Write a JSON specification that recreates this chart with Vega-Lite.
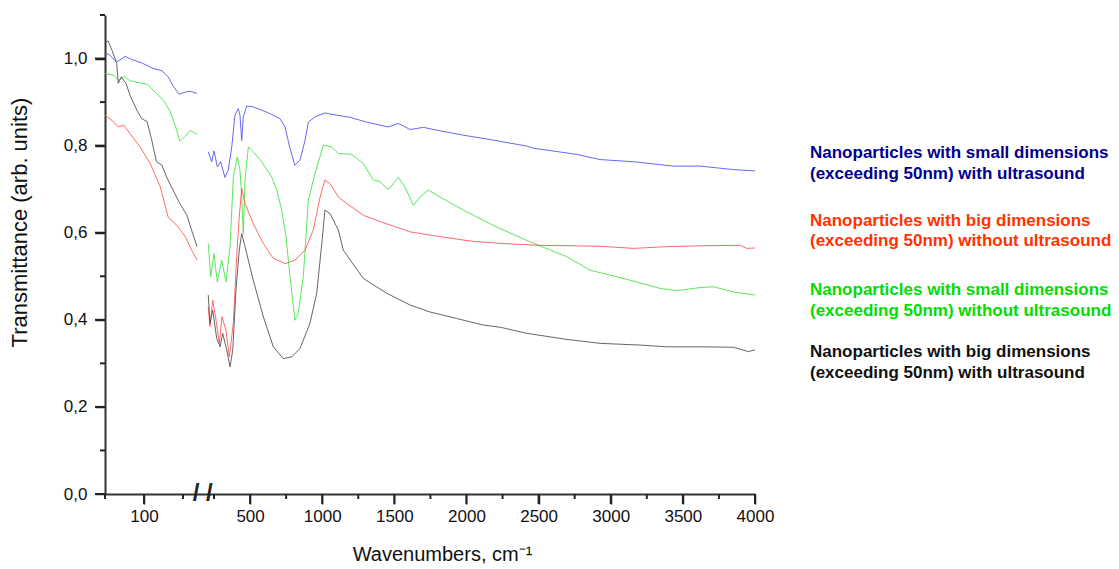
{
  "$schema": "https://vega.github.io/schema/vega-lite/v6.json",
  "width": 650,
  "height": 479,
  "autosize": {"type": "none"},
  "padding": {"left": 105, "top": 15, "right": 364, "bottom": 75},
  "config": {"view": {"stroke": null}, "font": "Liberation Sans"},
  "datasets": {
    "spectra": [
      {"series": "small_us", "part": "L", "wavenumber": 50, "transmittance": 1.013},
      {"series": "small_us", "part": "L", "wavenumber": 56, "transmittance": 1.008},
      {"series": "small_us", "part": "L", "wavenumber": 65, "transmittance": 0.992},
      {"series": "small_us", "part": "L", "wavenumber": 76, "transmittance": 1.005},
      {"series": "small_us", "part": "L", "wavenumber": 84, "transmittance": 0.998},
      {"series": "small_us", "part": "L", "wavenumber": 97, "transmittance": 0.990},
      {"series": "small_us", "part": "L", "wavenumber": 112, "transmittance": 0.977},
      {"series": "small_us", "part": "L", "wavenumber": 123, "transmittance": 0.972},
      {"series": "small_us", "part": "L", "wavenumber": 131, "transmittance": 0.958},
      {"series": "small_us", "part": "L", "wavenumber": 138, "transmittance": 0.935},
      {"series": "small_us", "part": "L", "wavenumber": 145, "transmittance": 0.918},
      {"series": "small_us", "part": "L", "wavenumber": 153, "transmittance": 0.923},
      {"series": "small_us", "part": "L", "wavenumber": 159, "transmittance": 0.925},
      {"series": "small_us", "part": "L", "wavenumber": 168, "transmittance": 0.920},
      {"series": "small_us", "part": "R", "wavenumber": 210, "transmittance": 0.786},
      {"series": "small_us", "part": "R", "wavenumber": 234, "transmittance": 0.763},
      {"series": "small_us", "part": "R", "wavenumber": 250, "transmittance": 0.788},
      {"series": "small_us", "part": "R", "wavenumber": 273, "transmittance": 0.751},
      {"series": "small_us", "part": "R", "wavenumber": 296, "transmittance": 0.763},
      {"series": "small_us", "part": "R", "wavenumber": 326, "transmittance": 0.727},
      {"series": "small_us", "part": "R", "wavenumber": 349, "transmittance": 0.744},
      {"series": "small_us", "part": "R", "wavenumber": 373, "transmittance": 0.797},
      {"series": "small_us", "part": "R", "wavenumber": 395, "transmittance": 0.870},
      {"series": "small_us", "part": "R", "wavenumber": 418, "transmittance": 0.885},
      {"series": "small_us", "part": "R", "wavenumber": 430, "transmittance": 0.870},
      {"series": "small_us", "part": "R", "wavenumber": 442, "transmittance": 0.812},
      {"series": "small_us", "part": "R", "wavenumber": 453, "transmittance": 0.866},
      {"series": "small_us", "part": "R", "wavenumber": 477, "transmittance": 0.891},
      {"series": "small_us", "part": "R", "wavenumber": 522, "transmittance": 0.889},
      {"series": "small_us", "part": "R", "wavenumber": 615, "transmittance": 0.877},
      {"series": "small_us", "part": "R", "wavenumber": 707, "transmittance": 0.862},
      {"series": "small_us", "part": "R", "wavenumber": 742, "transmittance": 0.843},
      {"series": "small_us", "part": "R", "wavenumber": 777, "transmittance": 0.793},
      {"series": "small_us", "part": "R", "wavenumber": 811, "transmittance": 0.755},
      {"series": "small_us", "part": "R", "wavenumber": 846, "transmittance": 0.767},
      {"series": "small_us", "part": "R", "wavenumber": 881, "transmittance": 0.812},
      {"series": "small_us", "part": "R", "wavenumber": 904, "transmittance": 0.854},
      {"series": "small_us", "part": "R", "wavenumber": 950, "transmittance": 0.866},
      {"series": "small_us", "part": "R", "wavenumber": 1019, "transmittance": 0.875},
      {"series": "small_us", "part": "R", "wavenumber": 1100, "transmittance": 0.870},
      {"series": "small_us", "part": "R", "wavenumber": 1193, "transmittance": 0.865},
      {"series": "small_us", "part": "R", "wavenumber": 1308, "transmittance": 0.854},
      {"series": "small_us", "part": "R", "wavenumber": 1401, "transmittance": 0.847},
      {"series": "small_us", "part": "R", "wavenumber": 1458, "transmittance": 0.843},
      {"series": "small_us", "part": "R", "wavenumber": 1528, "transmittance": 0.851},
      {"series": "small_us", "part": "R", "wavenumber": 1609, "transmittance": 0.837},
      {"series": "small_us", "part": "R", "wavenumber": 1701, "transmittance": 0.842},
      {"series": "small_us", "part": "R", "wavenumber": 1817, "transmittance": 0.834},
      {"series": "small_us", "part": "R", "wavenumber": 1978, "transmittance": 0.824},
      {"series": "small_us", "part": "R", "wavenumber": 2163, "transmittance": 0.814},
      {"series": "small_us", "part": "R", "wavenumber": 2418, "transmittance": 0.799},
      {"series": "small_us", "part": "R", "wavenumber": 2463, "transmittance": 0.794},
      {"series": "small_us", "part": "R", "wavenumber": 2764, "transmittance": 0.780},
      {"series": "small_us", "part": "R", "wavenumber": 2926, "transmittance": 0.768},
      {"series": "small_us", "part": "R", "wavenumber": 3157, "transmittance": 0.763},
      {"series": "small_us", "part": "R", "wavenumber": 3434, "transmittance": 0.753},
      {"series": "small_us", "part": "R", "wavenumber": 3619, "transmittance": 0.753},
      {"series": "small_us", "part": "R", "wavenumber": 3850, "transmittance": 0.745},
      {"series": "small_us", "part": "R", "wavenumber": 4000, "transmittance": 0.742},

      {"series": "small_nous", "part": "L", "wavenumber": 50, "transmittance": 0.966},
      {"series": "small_nous", "part": "L", "wavenumber": 61, "transmittance": 0.962},
      {"series": "small_nous", "part": "L", "wavenumber": 67, "transmittance": 0.950},
      {"series": "small_nous", "part": "L", "wavenumber": 74, "transmittance": 0.959},
      {"series": "small_nous", "part": "L", "wavenumber": 82, "transmittance": 0.949},
      {"series": "small_nous", "part": "L", "wavenumber": 95, "transmittance": 0.944},
      {"series": "small_nous", "part": "L", "wavenumber": 104, "transmittance": 0.941},
      {"series": "small_nous", "part": "L", "wavenumber": 112, "transmittance": 0.927},
      {"series": "small_nous", "part": "L", "wavenumber": 125, "transmittance": 0.904},
      {"series": "small_nous", "part": "L", "wavenumber": 133, "transmittance": 0.881},
      {"series": "small_nous", "part": "L", "wavenumber": 140, "transmittance": 0.847},
      {"series": "small_nous", "part": "L", "wavenumber": 146, "transmittance": 0.810},
      {"series": "small_nous", "part": "L", "wavenumber": 153, "transmittance": 0.822},
      {"series": "small_nous", "part": "L", "wavenumber": 159, "transmittance": 0.835},
      {"series": "small_nous", "part": "L", "wavenumber": 168, "transmittance": 0.826},
      {"series": "small_nous", "part": "R", "wavenumber": 210, "transmittance": 0.575},
      {"series": "small_nous", "part": "R", "wavenumber": 227, "transmittance": 0.499},
      {"series": "small_nous", "part": "R", "wavenumber": 250, "transmittance": 0.552},
      {"series": "small_nous", "part": "R", "wavenumber": 273, "transmittance": 0.487},
      {"series": "small_nous", "part": "R", "wavenumber": 303, "transmittance": 0.537},
      {"series": "small_nous", "part": "R", "wavenumber": 333, "transmittance": 0.487},
      {"series": "small_nous", "part": "R", "wavenumber": 361, "transmittance": 0.568},
      {"series": "small_nous", "part": "R", "wavenumber": 384, "transmittance": 0.728},
      {"series": "small_nous", "part": "R", "wavenumber": 411, "transmittance": 0.774},
      {"series": "small_nous", "part": "R", "wavenumber": 430, "transmittance": 0.744},
      {"series": "small_nous", "part": "R", "wavenumber": 442, "transmittance": 0.682},
      {"series": "small_nous", "part": "R", "wavenumber": 453, "transmittance": 0.598},
      {"series": "small_nous", "part": "R", "wavenumber": 465, "transmittance": 0.721},
      {"series": "small_nous", "part": "R", "wavenumber": 488, "transmittance": 0.797},
      {"series": "small_nous", "part": "R", "wavenumber": 522, "transmittance": 0.786},
      {"series": "small_nous", "part": "R", "wavenumber": 581, "transmittance": 0.763},
      {"series": "small_nous", "part": "R", "wavenumber": 650, "transmittance": 0.728},
      {"series": "small_nous", "part": "R", "wavenumber": 685, "transmittance": 0.698},
      {"series": "small_nous", "part": "R", "wavenumber": 719, "transmittance": 0.652},
      {"series": "small_nous", "part": "R", "wavenumber": 749, "transmittance": 0.591},
      {"series": "small_nous", "part": "R", "wavenumber": 777, "transmittance": 0.499},
      {"series": "small_nous", "part": "R", "wavenumber": 811, "transmittance": 0.399},
      {"series": "small_nous", "part": "R", "wavenumber": 834, "transmittance": 0.415},
      {"series": "small_nous", "part": "R", "wavenumber": 869, "transmittance": 0.499},
      {"series": "small_nous", "part": "R", "wavenumber": 904, "transmittance": 0.675},
      {"series": "small_nous", "part": "R", "wavenumber": 950, "transmittance": 0.736},
      {"series": "small_nous", "part": "R", "wavenumber": 1008, "transmittance": 0.801},
      {"series": "small_nous", "part": "R", "wavenumber": 1066, "transmittance": 0.797},
      {"series": "small_nous", "part": "R", "wavenumber": 1112, "transmittance": 0.782},
      {"series": "small_nous", "part": "R", "wavenumber": 1204, "transmittance": 0.780},
      {"series": "small_nous", "part": "R", "wavenumber": 1285, "transmittance": 0.759},
      {"series": "small_nous", "part": "R", "wavenumber": 1354, "transmittance": 0.721},
      {"series": "small_nous", "part": "R", "wavenumber": 1401, "transmittance": 0.717},
      {"series": "small_nous", "part": "R", "wavenumber": 1458, "transmittance": 0.699},
      {"series": "small_nous", "part": "R", "wavenumber": 1528, "transmittance": 0.727},
      {"series": "small_nous", "part": "R", "wavenumber": 1574, "transmittance": 0.705},
      {"series": "small_nous", "part": "R", "wavenumber": 1631, "transmittance": 0.663},
      {"series": "small_nous", "part": "R", "wavenumber": 1678, "transmittance": 0.682},
      {"series": "small_nous", "part": "R", "wavenumber": 1735, "transmittance": 0.698},
      {"series": "small_nous", "part": "R", "wavenumber": 1817, "transmittance": 0.682},
      {"series": "small_nous", "part": "R", "wavenumber": 1978, "transmittance": 0.652},
      {"series": "small_nous", "part": "R", "wavenumber": 2210, "transmittance": 0.613},
      {"series": "small_nous", "part": "R", "wavenumber": 2440, "transmittance": 0.579},
      {"series": "small_nous", "part": "R", "wavenumber": 2695, "transmittance": 0.545},
      {"series": "small_nous", "part": "R", "wavenumber": 2856, "transmittance": 0.514},
      {"series": "small_nous", "part": "R", "wavenumber": 3111, "transmittance": 0.493},
      {"series": "small_nous", "part": "R", "wavenumber": 3342, "transmittance": 0.472},
      {"series": "small_nous", "part": "R", "wavenumber": 3457, "transmittance": 0.467},
      {"series": "small_nous", "part": "R", "wavenumber": 3619, "transmittance": 0.474},
      {"series": "small_nous", "part": "R", "wavenumber": 3711, "transmittance": 0.476},
      {"series": "small_nous", "part": "R", "wavenumber": 3850, "transmittance": 0.464},
      {"series": "small_nous", "part": "R", "wavenumber": 4000, "transmittance": 0.457},

      {"series": "big_nous", "part": "L", "wavenumber": 50, "transmittance": 0.870},
      {"series": "big_nous", "part": "L", "wavenumber": 59, "transmittance": 0.858},
      {"series": "big_nous", "part": "L", "wavenumber": 67, "transmittance": 0.843},
      {"series": "big_nous", "part": "L", "wavenumber": 74, "transmittance": 0.847},
      {"series": "big_nous", "part": "L", "wavenumber": 82, "transmittance": 0.828},
      {"series": "big_nous", "part": "L", "wavenumber": 95, "transmittance": 0.797},
      {"series": "big_nous", "part": "L", "wavenumber": 108, "transmittance": 0.759},
      {"series": "big_nous", "part": "L", "wavenumber": 121, "transmittance": 0.705},
      {"series": "big_nous", "part": "L", "wavenumber": 131, "transmittance": 0.636},
      {"series": "big_nous", "part": "L", "wavenumber": 142, "transmittance": 0.617},
      {"series": "big_nous", "part": "L", "wavenumber": 153, "transmittance": 0.591},
      {"series": "big_nous", "part": "L", "wavenumber": 161, "transmittance": 0.560},
      {"series": "big_nous", "part": "L", "wavenumber": 168, "transmittance": 0.537},
      {"series": "big_nous", "part": "R", "wavenumber": 210, "transmittance": 0.430},
      {"series": "big_nous", "part": "R", "wavenumber": 222, "transmittance": 0.384},
      {"series": "big_nous", "part": "R", "wavenumber": 241, "transmittance": 0.445},
      {"series": "big_nous", "part": "R", "wavenumber": 264, "transmittance": 0.399},
      {"series": "big_nous", "part": "R", "wavenumber": 287, "transmittance": 0.346},
      {"series": "big_nous", "part": "R", "wavenumber": 305, "transmittance": 0.407},
      {"series": "big_nous", "part": "R", "wavenumber": 333, "transmittance": 0.376},
      {"series": "big_nous", "part": "R", "wavenumber": 356, "transmittance": 0.315},
      {"series": "big_nous", "part": "R", "wavenumber": 384, "transmittance": 0.392},
      {"series": "big_nous", "part": "R", "wavenumber": 407, "transmittance": 0.545},
      {"series": "big_nous", "part": "R", "wavenumber": 425, "transmittance": 0.636},
      {"series": "big_nous", "part": "R", "wavenumber": 442, "transmittance": 0.702},
      {"series": "big_nous", "part": "R", "wavenumber": 465, "transmittance": 0.667},
      {"series": "big_nous", "part": "R", "wavenumber": 522, "transmittance": 0.621},
      {"series": "big_nous", "part": "R", "wavenumber": 592, "transmittance": 0.575},
      {"series": "big_nous", "part": "R", "wavenumber": 661, "transmittance": 0.541},
      {"series": "big_nous", "part": "R", "wavenumber": 742, "transmittance": 0.529},
      {"series": "big_nous", "part": "R", "wavenumber": 811, "transmittance": 0.537},
      {"series": "big_nous", "part": "R", "wavenumber": 881, "transmittance": 0.560},
      {"series": "big_nous", "part": "R", "wavenumber": 938, "transmittance": 0.606},
      {"series": "big_nous", "part": "R", "wavenumber": 985, "transmittance": 0.682},
      {"series": "big_nous", "part": "R", "wavenumber": 1019, "transmittance": 0.721},
      {"series": "big_nous", "part": "R", "wavenumber": 1054, "transmittance": 0.713},
      {"series": "big_nous", "part": "R", "wavenumber": 1112, "transmittance": 0.682},
      {"series": "big_nous", "part": "R", "wavenumber": 1170, "transmittance": 0.667},
      {"series": "big_nous", "part": "R", "wavenumber": 1285, "transmittance": 0.640},
      {"series": "big_nous", "part": "R", "wavenumber": 1424, "transmittance": 0.623},
      {"series": "big_nous", "part": "R", "wavenumber": 1609, "transmittance": 0.602},
      {"series": "big_nous", "part": "R", "wavenumber": 1817, "transmittance": 0.591},
      {"series": "big_nous", "part": "R", "wavenumber": 2025, "transmittance": 0.581},
      {"series": "big_nous", "part": "R", "wavenumber": 2255, "transmittance": 0.575},
      {"series": "big_nous", "part": "R", "wavenumber": 2510, "transmittance": 0.571},
      {"series": "big_nous", "part": "R", "wavenumber": 2926, "transmittance": 0.569},
      {"series": "big_nous", "part": "R", "wavenumber": 3157, "transmittance": 0.564},
      {"series": "big_nous", "part": "R", "wavenumber": 3388, "transmittance": 0.568},
      {"series": "big_nous", "part": "R", "wavenumber": 3619, "transmittance": 0.570},
      {"series": "big_nous", "part": "R", "wavenumber": 3896, "transmittance": 0.571},
      {"series": "big_nous", "part": "R", "wavenumber": 3943, "transmittance": 0.564},
      {"series": "big_nous", "part": "R", "wavenumber": 4000, "transmittance": 0.565},

      {"series": "big_us", "part": "L", "wavenumber": 50, "transmittance": 1.038},
      {"series": "big_us", "part": "L", "wavenumber": 54, "transmittance": 1.040},
      {"series": "big_us", "part": "L", "wavenumber": 59, "transmittance": 1.019},
      {"series": "big_us", "part": "L", "wavenumber": 65, "transmittance": 0.989},
      {"series": "big_us", "part": "L", "wavenumber": 67, "transmittance": 0.943},
      {"series": "big_us", "part": "L", "wavenumber": 71, "transmittance": 0.958},
      {"series": "big_us", "part": "L", "wavenumber": 74, "transmittance": 0.950},
      {"series": "big_us", "part": "L", "wavenumber": 77, "transmittance": 0.943},
      {"series": "big_us", "part": "L", "wavenumber": 82, "transmittance": 0.916},
      {"series": "big_us", "part": "L", "wavenumber": 91, "transmittance": 0.881},
      {"series": "big_us", "part": "L", "wavenumber": 97, "transmittance": 0.862},
      {"series": "big_us", "part": "L", "wavenumber": 104, "transmittance": 0.855},
      {"series": "big_us", "part": "L", "wavenumber": 110, "transmittance": 0.812},
      {"series": "big_us", "part": "L", "wavenumber": 116, "transmittance": 0.763},
      {"series": "big_us", "part": "L", "wavenumber": 123, "transmittance": 0.755},
      {"series": "big_us", "part": "L", "wavenumber": 129, "transmittance": 0.728},
      {"series": "big_us", "part": "L", "wavenumber": 136, "transmittance": 0.702},
      {"series": "big_us", "part": "L", "wavenumber": 146, "transmittance": 0.667},
      {"series": "big_us", "part": "L", "wavenumber": 155, "transmittance": 0.640},
      {"series": "big_us", "part": "L", "wavenumber": 161, "transmittance": 0.606},
      {"series": "big_us", "part": "L", "wavenumber": 168, "transmittance": 0.568},
      {"series": "big_us", "part": "R", "wavenumber": 210, "transmittance": 0.457},
      {"series": "big_us", "part": "R", "wavenumber": 222, "transmittance": 0.392},
      {"series": "big_us", "part": "R", "wavenumber": 241, "transmittance": 0.422},
      {"series": "big_us", "part": "R", "wavenumber": 269, "transmittance": 0.357},
      {"series": "big_us", "part": "R", "wavenumber": 292, "transmittance": 0.338},
      {"series": "big_us", "part": "R", "wavenumber": 310, "transmittance": 0.369},
      {"series": "big_us", "part": "R", "wavenumber": 338, "transmittance": 0.331},
      {"series": "big_us", "part": "R", "wavenumber": 361, "transmittance": 0.292},
      {"series": "big_us", "part": "R", "wavenumber": 380, "transmittance": 0.331},
      {"series": "big_us", "part": "R", "wavenumber": 402, "transmittance": 0.468},
      {"series": "big_us", "part": "R", "wavenumber": 425, "transmittance": 0.560},
      {"series": "big_us", "part": "R", "wavenumber": 442, "transmittance": 0.598},
      {"series": "big_us", "part": "R", "wavenumber": 465, "transmittance": 0.568},
      {"series": "big_us", "part": "R", "wavenumber": 522, "transmittance": 0.491},
      {"series": "big_us", "part": "R", "wavenumber": 592, "transmittance": 0.407},
      {"series": "big_us", "part": "R", "wavenumber": 661, "transmittance": 0.338},
      {"series": "big_us", "part": "R", "wavenumber": 730, "transmittance": 0.311},
      {"series": "big_us", "part": "R", "wavenumber": 789, "transmittance": 0.315},
      {"series": "big_us", "part": "R", "wavenumber": 846, "transmittance": 0.334},
      {"series": "big_us", "part": "R", "wavenumber": 915, "transmittance": 0.392},
      {"series": "big_us", "part": "R", "wavenumber": 962, "transmittance": 0.461},
      {"series": "big_us", "part": "R", "wavenumber": 997, "transmittance": 0.575},
      {"series": "big_us", "part": "R", "wavenumber": 1019, "transmittance": 0.652},
      {"series": "big_us", "part": "R", "wavenumber": 1054, "transmittance": 0.644},
      {"series": "big_us", "part": "R", "wavenumber": 1112, "transmittance": 0.606},
      {"series": "big_us", "part": "R", "wavenumber": 1146, "transmittance": 0.560},
      {"series": "big_us", "part": "R", "wavenumber": 1285, "transmittance": 0.495},
      {"series": "big_us", "part": "R", "wavenumber": 1447, "transmittance": 0.461},
      {"series": "big_us", "part": "R", "wavenumber": 1609, "transmittance": 0.434},
      {"series": "big_us", "part": "R", "wavenumber": 1747, "transmittance": 0.418},
      {"series": "big_us", "part": "R", "wavenumber": 1932, "transmittance": 0.403},
      {"series": "big_us", "part": "R", "wavenumber": 2117, "transmittance": 0.388},
      {"series": "big_us", "part": "R", "wavenumber": 2233, "transmittance": 0.383},
      {"series": "big_us", "part": "R", "wavenumber": 2418, "transmittance": 0.369},
      {"series": "big_us", "part": "R", "wavenumber": 2695, "transmittance": 0.355},
      {"series": "big_us", "part": "R", "wavenumber": 2926, "transmittance": 0.346},
      {"series": "big_us", "part": "R", "wavenumber": 3203, "transmittance": 0.342},
      {"series": "big_us", "part": "R", "wavenumber": 3388, "transmittance": 0.338},
      {"series": "big_us", "part": "R", "wavenumber": 3619, "transmittance": 0.338},
      {"series": "big_us", "part": "R", "wavenumber": 3850, "transmittance": 0.337},
      {"series": "big_us", "part": "R", "wavenumber": 3954, "transmittance": 0.327},
      {"series": "big_us", "part": "R", "wavenumber": 4000, "transmittance": 0.331}
    ],
    "labels": [
      {"series": "small_us", "label": "Nanoparticles with small dimensions\n(exceeding 50nm) with ultrasound", "position": 0.783},
      {"series": "big_nous", "label": "Nanoparticles with big dimensions\n(exceeding 50nm) without ultrasound", "position": 0.627},
      {"series": "small_nous", "label": "Nanoparticles with small dimensions\n(exceeding 50nm) without ultrasound", "position": 0.468},
      {"series": "big_us", "label": "Nanoparticles with big dimensions\n(exceeding 50nm) with ultrasound", "position": 0.326}
    ],
    "axisbreak": [
      {"wavenumber": 185, "transmittance": 0, "mark": "/ /"}
    ],
    "xmajor": [
      {"wavenumber": 100}, {"wavenumber": 500}, {"wavenumber": 1000}, {"wavenumber": 1500}, {"wavenumber": 2000},
      {"wavenumber": 2500}, {"wavenumber": 3000}, {"wavenumber": 3500}, {"wavenumber": 4000}
    ],
    "xminor": [
      {"wavenumber": 50}, {"wavenumber": 150}, {"wavenumber": 250}, {"wavenumber": 750}, {"wavenumber": 1250},
      {"wavenumber": 1750}, {"wavenumber": 2250}, {"wavenumber": 2750}, {"wavenumber": 3250}, {"wavenumber": 3750}
    ],
    "ymajor": [
      {"transmittance": 0}, {"transmittance": 0.2}, {"transmittance": 0.4}, {"transmittance": 0.6}, {"transmittance": 0.8}, {"transmittance": 1.0}
    ],
    "yminor": [
      {"transmittance": 0.1}, {"transmittance": 0.3}, {"transmittance": 0.5}, {"transmittance": 0.7}, {"transmittance": 0.9}, {"transmittance": 1.1}
    ]
  },
  "resolve": {"scale": {"color": "independent"}, "axis": {"x": "independent", "y": "independent"}},
  "layer": [
    {
      "data": {"name": "spectra"},
      "mark": {"type": "line", "strokeWidth": 1, "opacity": 0.85},
      "encoding": {
        "x": {
          "field": "wavenumber",
          "type": "quantitative",
          "scale": {"domain": [50, 170, 200, 4000], "range": [0, 93.6, 101.8, 650], "nice": false, "zero": false},
          "axis": {
            "orient": "bottom",
            "values": [100, 500, 1000, 1500, 2000, 2500, 3000, 3500, 4000],
            "format": "d",
            "ticks": true,
            "tickSize": 10,
            "tickWidth": 1.5,
            "tickColor": "#222222",
            "grid": false,
            "domainColor": "#333333",
            "domainWidth": 2,
            "labelFontSize": 17,
            "labelColor": "#111111",
            "labelPadding": 4,
            "labelOverlap": false,
            "labelFlush": false,
            "title": "Wavenumbers, cm⁻¹",
            "titleFontSize": 20,
            "titleFontWeight": "normal",
            "titleColor": "#111111",
            "titlePadding": 20,
            "titleX": 337
          }
        },
        "y": {
          "field": "transmittance",
          "type": "quantitative",
          "scale": {"domain": [0, 1.1], "nice": false, "zero": false},
          "axis": {
            "orient": "left",
            "values": [0, 0.2, 0.4, 0.6, 0.8, 1.0],
            "labelExpr": "replace(format(datum.value, '.1f'), '.', ',')",
            "ticks": true,
            "tickSize": 10,
            "tickWidth": 1.5,
            "tickColor": "#222222",
            "grid": false,
            "domainColor": "#333333",
            "domainWidth": 2,
            "labelFontSize": 17,
            "labelColor": "#111111",
            "labelPadding": 8,
            "labelOverlap": false,
            "labelFlush": false,
            "title": "Transmittance (arb. units)",
            "titleFontSize": 22,
            "titleFontWeight": "normal",
            "titleColor": "#111111",
            "titlePadding": 32,
            "titleY": 207
          }
        },
        "color": {
          "field": "series",
          "type": "nominal",
          "scale": {"domain": ["small_us", "big_nous", "small_nous", "big_us"], "range": ["#4d4dee", "#ff5050", "#3ee43e", "#4a4a4a"]},
          "legend": null
        },
        "detail": {"field": "part", "type": "nominal"}
      }
    },
    {
      "data": {"name": "labels"},
      "mark": {"type": "text", "align": "left", "baseline": "middle", "dx": 55, "fontSize": 17, "fontWeight": "bold", "lineBreak": "\n", "lineHeight": 20.5},
      "encoding": {
        "x": {"datum": 4000, "type": "quantitative", "axis": null},
        "y": {"field": "position", "type": "quantitative", "axis": null},
        "text": {"field": "label", "type": "nominal"},
        "color": {
          "field": "series",
          "type": "nominal",
          "scale": {"domain": ["small_us", "big_nous", "small_nous", "big_us"], "range": ["#000090", "#ff3300", "#00dd00", "#111111"]},
          "legend": null
        }
      }
    },
    {
      "data": {"name": "axisbreak"},
      "mark": {"type": "text", "align": "center", "baseline": "middle", "fontSize": 24, "fontWeight": "bold", "color": "#222222"},
      "encoding": {
        "x": {"field": "wavenumber", "type": "quantitative", "axis": null},
        "y": {"field": "transmittance", "type": "quantitative", "axis": null},
        "text": {"field": "mark", "type": "nominal"}
      }
    },
    {
      "data": {"name": "xmajor"},
      "mark": {"type": "rule", "strokeWidth": 2, "color": "#222222"},
      "encoding": {
        "x": {"field": "wavenumber", "type": "quantitative", "axis": null},
        "y": {"datum": 0, "type": "quantitative", "axis": null},
        "y2": {"datum": -0.023}
      }
    },
    {
      "data": {"name": "xminor"},
      "mark": {"type": "rule", "strokeWidth": 2, "color": "#222222"},
      "encoding": {
        "x": {"field": "wavenumber", "type": "quantitative", "axis": null},
        "y": {"datum": 0, "type": "quantitative", "axis": null},
        "y2": {"datum": -0.0115}
      }
    },
    {
      "data": {"name": "ymajor"},
      "mark": {"type": "rule", "strokeWidth": 2, "color": "#222222"},
      "encoding": {
        "y": {"field": "transmittance", "type": "quantitative", "axis": null},
        "x": {"datum": 50, "type": "quantitative", "axis": null},
        "x2": {"datum": 37.2}
      }
    },
    {
      "data": {"name": "yminor"},
      "mark": {"type": "rule", "strokeWidth": 2, "color": "#222222"},
      "encoding": {
        "y": {"field": "transmittance", "type": "quantitative", "axis": null},
        "x": {"datum": 50, "type": "quantitative", "axis": null},
        "x2": {"datum": 43.6}
      }
    }
  ]
}
